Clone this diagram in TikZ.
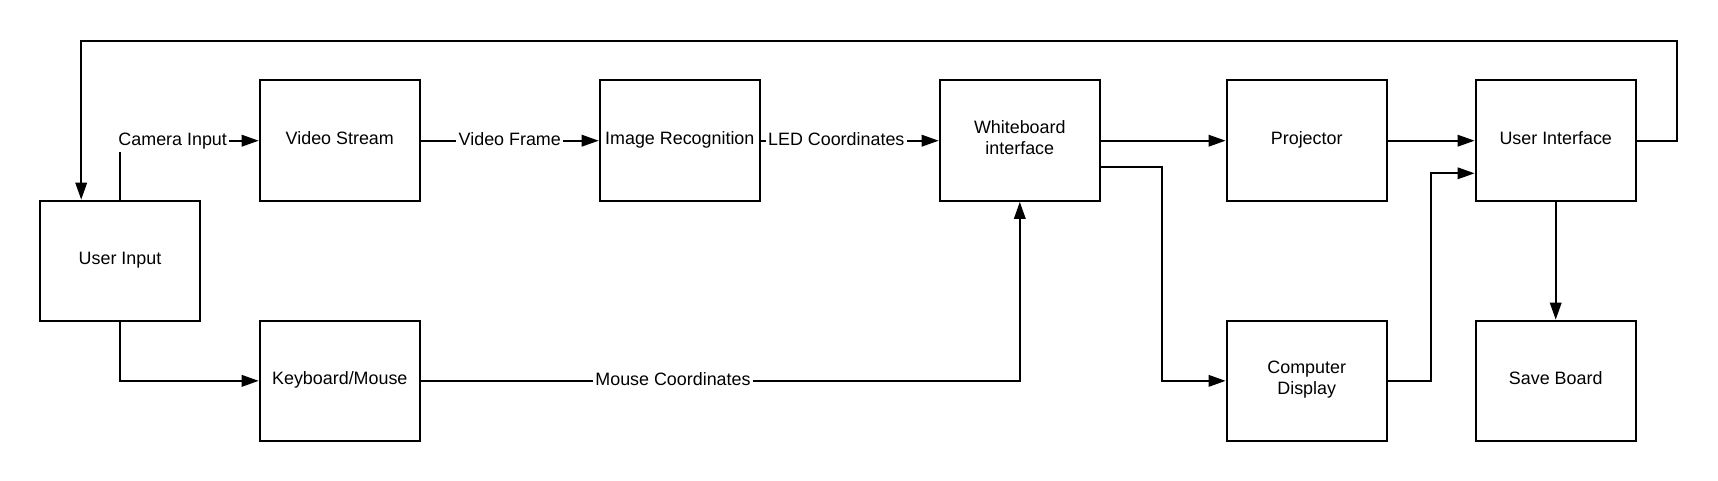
\documentclass[tikz,border=0pt]{standalone}
\usepackage{fontspec}
\setmainfont{Liberation Sans}
\usetikzlibrary{arrows.meta}
\begin{document}
\begin{tikzpicture}[x=1pt,y=-1pt,
  box/.style={draw, line width=1.9pt, minimum width=160.3pt, minimum height=120.5pt, inner sep=0pt, align=center, font=\fontsize{17.9}{20.7}\selectfont, execute at begin node={\strut}, execute at end node={\strut}},
  conn/.style={line width=1.9pt, -{Triangle[length=17pt,width=11.5pt]}},
  lab/.style={fill=white, inner sep=2.5pt, text height=13pt, text depth=4pt, font=\fontsize{17.9}{20.7}\selectfont}]
\useasboundingbox (0,0) rectangle (1718,481);
\node[box] (ui)  at (120,260.85)   {User Input};
\node[box] (vs)  at (339.8,140.7)  {Video Stream};
\node[box] (kb)  at (339.8,380.85) {Keyboard/Mouse};
\node[box] (ir)  at (679.8,140.7)  {Image Recognition};
\node[box] (wb)  at (1019.8,140.7) {Whiteboard\\interface};
\node[box] (pj)  at (1306.7,140.7) {Projector};
\node[box] (cd)  at (1306.7,380.85) {Computer\\Display};
\node[box] (uif) at (1555.7,140.7) {User Interface};
\node[box] (sb)  at (1555.7,380.85) {Save Board};
% edges
\draw[conn] (ui.north) |- (vs.west);
\node[lab] (lcam) at (172.7,140.7) {Camera Input};
\draw[conn] (vs.east) -- node[lab] (lvf) {Video Frame} (ir.west);
\draw[conn] (ir.east) -- node[lab, pos=0.424] (lled) {LED Coordinates} (wb.west);
\draw[conn] (ui.south) |- (kb.west);
\draw[conn] (kb.east) -| (wb.south);
\node[lab] (lmc) at (673,380.85) {Mouse Coordinates};
\draw[conn] (wb.east) -- (pj.west);
\draw[conn] ([yshift=-26pt]wb.east) -- (1162.4,166.7) |- (cd.west);
\draw[conn] (pj.east) -- (uif.west);
\draw[conn] (cd.east) -- (1431.1,380.85) |- ([yshift=-32.6pt]uif.west);
\draw[conn] (uif.south) -- (sb.north);
\draw[conn] (uif.east) -- (1676.8,140.7) |- (81.2,40.7) -- ([xshift=-38.8pt]ui.north);
\end{tikzpicture}
\end{document}
